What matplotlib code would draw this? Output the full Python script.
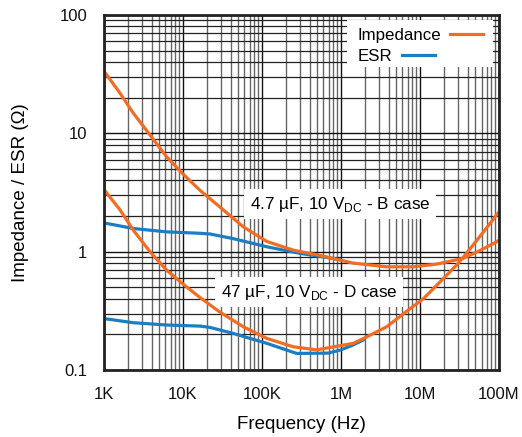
import numpy as np
import matplotlib
matplotlib.use("Agg")
import matplotlib.pyplot as plt
from matplotlib.lines import Line2D
from matplotlib.patches import Rectangle

plt.rcParams['font.family'] = ['Liberation Sans', 'DejaVu Sans']

# colors
ORANGE = "#F26C22"
BLUE = "#1B7DC2"

# 4.7 uF, 10 VDC - B case
freq_b_z = [1e3, 1.6e3, 2.35e3, 3.82e3, 6.2e3, 10.1e3, 16.4e3, 22e3, 29e3, 58e3, 115e3,
            249e3, 542e3, 690e3, 1.43e6, 3.78e6, 8.2e6, 16.3e6, 35e6, 57e6, 93e6, 1e8]
imp_b = [33.5, 21.8, 14.8, 9.7, 6.34, 4.5, 3.3, 2.8, 2.4, 1.62, 1.22,
         1.03, 0.93, 0.895, 0.80, 0.745, 0.745, 0.785, 0.877, 1.02, 1.21, 1.25]
freq_b_esr = [1e3, 2.35e3, 6.2e3, 16.4e3, 22e3, 43e3, 115e3, 303e3, 690e3, 1e6]
esr_b = [1.75, 1.57, 1.47, 1.43, 1.41, 1.29, 1.10, 0.967, 0.89, 0.85]

# 47 uF, 10 VDC - D case
freq_d_z = [1e3, 1.6e3, 2.35e3, 3.82e3, 6.2e3, 10.1e3, 16.4e3, 22e3, 29e3, 58e3, 115e3,
            249e3, 492e3, 1.43e6, 2e6, 3.78e6, 7.5e6, 11e6, 16.3e6, 29e6, 35e6, 57e6, 93e6, 1e8]
imp_d = [3.35, 2.25, 1.52, 1.0, 0.698, 0.53, 0.41, 0.355, 0.31, 0.232, 0.185,
         0.157, 0.148, 0.168, 0.187, 0.232, 0.33, 0.40, 0.52, 0.77, 0.89, 1.34, 2.04, 2.17]
freq_d_esr = [1e3, 2.35e3, 6.2e3, 16.4e3, 22e3, 43e3, 115e3, 275e3, 690e3, 1e6, 1.43e6, 2e6]
esr_d = [0.272, 0.251, 0.24, 0.235, 0.229, 0.204, 0.168, 0.138, 0.139, 0.148, 0.163, 0.182]

x_ticks = [1e3, 1e4, 1e5, 1e6, 1e7, 1e8]
x_labels = ["1K", "10K", "100K", "1M", "10M", "100M"]
y_ticks = [0.1, 1, 10, 100]
y_labels = ["0.1", "1", "10", "100"]

fig = plt.figure(figsize=(5.22, 4.37), dpi=100)
ax = fig.add_axes([0.1992, 0.1533, 0.7568, 0.8124])
ax.set_xscale("log")
ax.set_yscale("log")
ax.set_xlim(1e3, 1e8)
ax.set_ylim(0.1, 100)

# grid
ax.grid(True, which="major", color="#111111", linewidth=1.0)
ax.grid(True, which="minor", axis="x", color="#666666", linewidth=1.0)
ax.grid(True, which="minor", axis="y", color="#222222", linewidth=0.9)
ax.set_axisbelow(True)

# curves
lw = 2.3
ax.plot(freq_b_esr, esr_b, color=BLUE, linewidth=lw, zorder=3, solid_capstyle="butt")
ax.plot(freq_d_esr, esr_d, color=BLUE, linewidth=lw, zorder=3, solid_capstyle="butt")
ax.plot(freq_b_z, imp_b, color=ORANGE, linewidth=lw, zorder=4, solid_capstyle="butt")
ax.plot(freq_d_z, imp_d, color=ORANGE, linewidth=lw, zorder=4, solid_capstyle="butt")

# labels on curves
ax.text(9.7e5, 2.52, r"4.7 µF, 10 V$_{\mathregular{DC}}$ - B case", fontsize=12.3, ha="center", va="center",
        bbox=dict(facecolor="white", edgecolor="none", pad=4), zorder=5)
ax.text(3.94e5, 0.456, r"47 µF, 10 V$_{\mathregular{DC}}$ - D case", fontsize=12.3, ha="center", va="center",
        bbox=dict(facecolor="white", edgecolor="none", pad=4), zorder=5)

# legend drawn by hand (line after text)
ax.add_patch(Rectangle((0.614, 0.854), 0.371, 0.132, transform=ax.transAxes,
                       facecolor="white", edgecolor="none", zorder=5))
ax.text(0.643, 0.941, "Impedance", transform=ax.transAxes, fontsize=12.2, va="center", zorder=6)
ax.add_line(Line2D([0.876, 0.959], [0.9456, 0.9456], transform=ax.transAxes, color=ORANGE, linewidth=lw, zorder=6))
ax.text(0.643, 0.8825, "ESR", transform=ax.transAxes, fontsize=12.2, va="center", zorder=6)
ax.add_line(Line2D([0.754, 0.838], [0.887, 0.887], transform=ax.transAxes, color=BLUE, linewidth=lw, zorder=6))

ax.set_xticks(x_ticks)
ax.set_xticklabels(x_labels)
ax.set_yticks(y_ticks)
ax.set_yticklabels(y_labels)
ax.tick_params(which="both", length=0, labelsize=12, colors="#111111")
ax.tick_params(axis="x", pad=12)
ax.tick_params(axis="y", pad=12)

for spine in ax.spines.values():
    spine.set_linewidth(2.0)
    spine.set_color("#222222")
    spine.set_zorder(7)

ax.set_xlabel("Frequency (Hz)", fontsize=13.5, labelpad=10)
ax.set_ylabel("Impedance / ESR (Ω)", fontsize=13.5, labelpad=22)

fig.savefig("out.png", dpi=100)
